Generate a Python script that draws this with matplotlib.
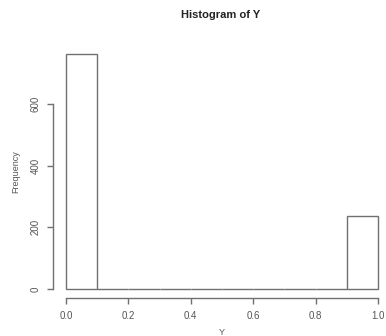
import numpy as np
import matplotlib
matplotlib.use("Agg")
import matplotlib.pyplot as plt

# histogram of a binary variable Y, R default breaks
BIN_EDGES = [0.0, 0.1, 0.2, 0.3, 0.4, 0.5, 0.6, 0.7, 0.8, 0.9, 1.0]
COUNTS = [763, 0, 0, 0, 0, 0, 0, 0, 0, 237]
X_TICKS = [0.0, 0.2, 0.4, 0.6, 0.8, 1.0]
Y_TICKS = [0, 200, 400, 600]

plt.rcParams["font.family"] = ["Liberation Sans", "DejaVu Sans"]
LINE = "#707070"
TEXT = "#555555"

fig = plt.figure(figsize=(3.86, 3.36), dpi=100)
ax = fig.add_axes([0.1386, 0.112, 0.8731, 0.7565])

edges = np.array(BIN_EDGES)
counts = np.array(COUNTS)
ax.bar(edges[:-1], counts, width=np.diff(edges), align="edge",
       facecolor="white", edgecolor=LINE, linewidth=1.0)

# R-style padding (4%) and detached axes
xr = edges[-1] - edges[0]
ymax = counts.max()
ax.set_xlim(edges[0] - 0.04 * xr, edges[-1] + 0.04 * xr)
ax.set_ylim(-0.04 * ymax, ymax * 1.04)

for s in ("top", "right"):
    ax.spines[s].set_visible(False)
for s in ("left", "bottom"):
    ax.spines[s].set_color(LINE)
    ax.spines[s].set_linewidth(1.0)
ax.spines["bottom"].set_bounds(X_TICKS[0], X_TICKS[-1])
ax.spines["left"].set_bounds(Y_TICKS[0], Y_TICKS[-1])

ax.set_xticks(X_TICKS)
ax.set_xticklabels([f"{v:.1f}" for v in X_TICKS])
ax.set_yticks(Y_TICKS)
ax.set_yticklabels([str(v) for v in Y_TICKS], rotation=90, va="center")
ax.tick_params(colors=LINE, labelcolor=TEXT, labelsize=7, length=4, width=1.0, pad=5)

ax.set_xlabel("Y", fontsize=6.5, color=TEXT, labelpad=5)
ax.set_ylabel("Frequency", fontsize=6.5, color=TEXT, labelpad=8)
fig.text(0.572, 0.955, "Histogram of Y", ha="center", va="center",
         fontsize=8, fontweight="bold", color="#222222")

fig.savefig("out.png", dpi=100)
